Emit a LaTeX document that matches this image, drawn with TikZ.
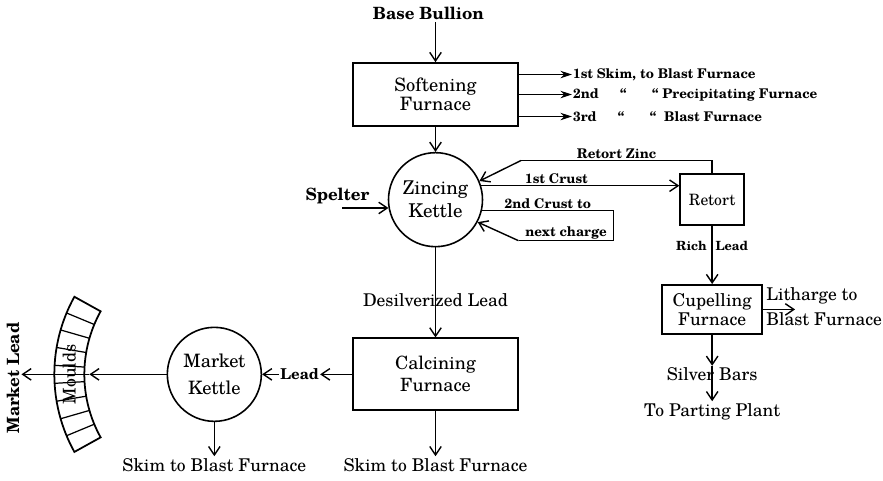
\documentclass[tikz,border=0pt]{standalone}
\usepackage{fontspec}
\setmainfont{texgyreschola}[Extension=.otf, UprightFont=*-regular, BoldFont=*-bold]
\usetikzlibrary{positioning, arrows.meta}

\newcommand{\flowfont}{\fontsize{10}{11.5}\selectfont}
\newcommand{\headfont}{\fontsize{9.6}{11}\selectfont\bfseries}
\newcommand{\tagfont}{\fontsize{7.6}{9}\selectfont\bfseries}

\tikzstyle{furnace} = [rectangle, draw=black, line width=1pt, minimum width=3.3cm, minimum height=1.26cm, align=center, font=\flowfont]
\tikzstyle{kettle} = [circle, draw=black, line width=0.9pt, minimum size=1.88cm, inner sep=0pt, align=center, font=\flowfont]
\tikzstyle{smallbox} = [rectangle, draw=black, line width=1pt, minimum width=1.28cm, minimum height=1.02cm, align=center, font=\fontsize{8.9}{10}\selectfont]
\tikzstyle{flowtext} = [inner sep=1pt, font=\flowfont]
\tikzstyle{tagtext} = [inner sep=0.5pt, font=\tagfont]
\tikzstyle{pipe} = [line width=0.8pt]
\tikzstyle{arrow} = [line width=0.8pt, ->, >={Straight Barb[length=1.7mm, width=2.3mm]}]
\tikzstyle{skimarrow} = [line width=0.8pt, -{Stealth[length=2.3mm, width=1.5mm]}]

\begin{document}
\begin{tikzpicture}
\useasboundingbox (0,0) rectangle (17.66,-9.6);

% softening furnace and its three skims
\node (soft) [furnace, font=\fontsize{10.5}{11}\selectfont] at (8.71,-1.89) {Softening\\Furnace};
\node (bullion) [above=0.8cm of soft, xshift=-0.14cm, font=\headfont, inner sep=1pt] {Base Bullion};
\node (skim2) [right=1.06cm of soft, tagtext] {2nd\hspace{1.6em}“\hspace{1.9em}“ Precipitating Furnace};
\node (skim1) [above=0.4cm of skim2.west, anchor=west, tagtext] {1st Skim, to Blast Furnace};
\node (skim3) [below=0.44cm of skim2.west, anchor=west, tagtext] {3rd\hspace{1.6em}“\hspace{1.9em}“\hspace{0.6em}Blast Furnace};
\draw[arrow] (bullion.south -| soft.north) -- (soft.north);
\foreach \s in {skim1,skim2,skim3}
  \draw[skimarrow] (soft.east |- \s.west) -- (\s.west);

% zincing kettle
\node (zinc) [kettle, below=0.5cm of soft, font=\fontsize{10.8}{13}\selectfont] {Zincing\\Kettle};
\draw[arrow] (soft) -- (zinc);
\coordinate (spelterfeed) at ([xshift=-0.92cm]zinc.190);
\node (spelter) [above=0.04cm of spelterfeed, xshift=-0.1cm, font=\headfont, inner sep=1pt] {Spelter};
\draw[arrow] (spelterfeed) -- (zinc.190);

% retort, crusts and zinc coming back
\node (retort) [smallbox, right=3.92cm of zinc] {Retort};
\coordinate (zincbend) at ([shift={(0.83,0.41)}]zinc.23);
\draw[pipe] (retort.north) |- node[pos=0.75, above, tagtext]{Retort Zinc} (zincbend);
\draw[arrow] (zincbend) -- (zinc.23);
\draw[arrow] (zinc.17) -- node[pos=0.38, above, tagtext]{1st Crust} (zinc.17 -| retort.west);
\coordinate (loopcorner) at ([shift={(3.56,-0.82)}]zinc.center);
\coordinate (loopback) at ([shift={(1.66,-0.82)}]zinc.center);
\draw[pipe] (zinc.-13) -| node[pos=0.25, above, tagtext]{2nd Crust to} (loopcorner) -- node[above, tagtext]{next charge} (loopback);
\draw[arrow] (loopback) -- (zinc.-28);

% cupelling
\node (cupel) [smallbox, below=1.16cm of retort, minimum width=2cm, minimum height=0.98cm, font=\fontsize{10}{10.5}\selectfont] {Cupelling\\Furnace};
\draw[arrow] (retort) -- node[pos=0.35, tagtext, font=\fontsize{7.2}{8}\selectfont\bfseries]{Rich\hspace{0.7em}Lead} (cupel);
\node (litharge) [right=0.06cm of cupel, yshift=0.06cm, align=left, inner sep=0pt, font=\fontsize{10}{14}\selectfont] {Litharge to\\Blast Furnace};
\coordinate (lithend) at ([xshift=0.64cm]cupel.east);
\draw[arrow] (cupel.east) -- (lithend);
\node (silver) [below=0.62cm of cupel, flowtext] {Silver Bars};
\node (parting) [below=0.36cm of silver, flowtext] {To Parting Plant};
\draw[arrow] (cupel) -- (silver.north);
\draw[arrow] (silver.north) -- (parting);

% calcining furnace
\node (calc) [furnace, below=1.8cm of zinc, minimum height=1.44cm, font=\fontsize{10.4}{12.5}\selectfont] {Calcining\\Furnace};
\draw[arrow] (zinc) -- node[pos=0.58, flowtext]{Desilverized Lead} (calc);
\node (calcskim) [below=0.9cm of calc, flowtext] {Skim to Blast Furnace};
\draw[arrow] (calc) -- (calcskim);

% market kettle
\node (market) [kettle, left=1.8cm of calc, font=\fontsize{10.5}{15}\selectfont] {Market\\Kettle};
\node (leadtag) [left=0.64cm of calc, inner sep=0.5pt, font=\fontsize{8.5}{9}\selectfont\bfseries] {Lead};
\draw[arrow] (calc) -- (leadtag);
\draw[arrow] (leadtag) -- (market);
\node (marketskim) [flowtext] at (market |- calcskim) {Skim to Blast Furnace};
\draw[arrow] (market) -- (marketskim);

% moulds round the market kettle
\begin{scope}[shift={(market.center)}]
  \draw[line width=1pt] (151:2.6) arc[start angle=151, end angle=209, radius=2.6]
    -- (209:3.2) arc[start angle=209, end angle=151, radius=3.2] -- cycle;
  \foreach \i in {1,...,8}
    \draw[line width=0.7pt] ({151+\i*58/9}:2.6) -- ({151+\i*58/9}:3.2);
  \node (moulds) [rotate=90, flowtext] at (180:2.9) {Moulds};
  \coordinate (mouldtip) at (180:2.5);
\end{scope}
\node (mlead) [rotate=90, font=\headfont, inner sep=1pt] at (0.26,-7.56) {Market Lead};
\draw[arrow] (market) -- (mouldtip);
\draw[arrow] (mouldtip) -- (mouldtip -| mlead.south);

\end{tikzpicture}
\end{document}
